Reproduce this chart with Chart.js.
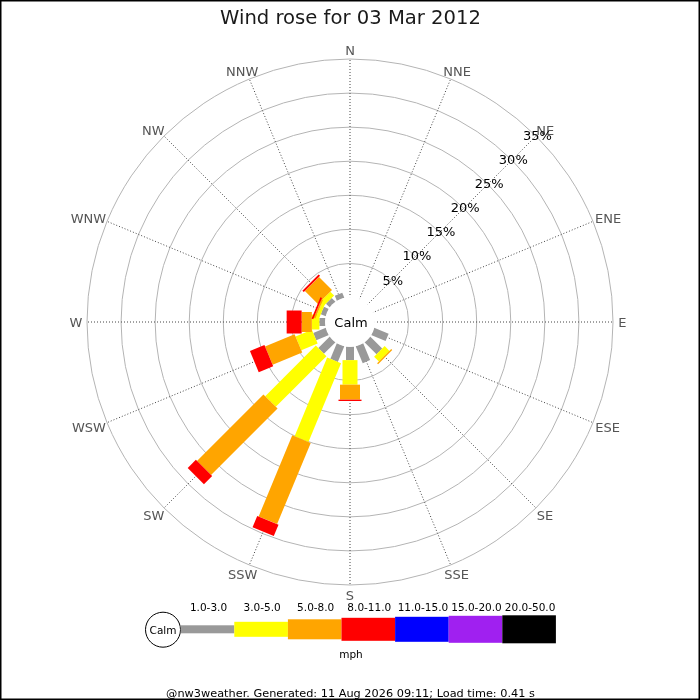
<!DOCTYPE html>
<html>
<head>
<meta charset="utf-8">
<script src="https://cdn.jsdelivr.net/npm/chart.js@4.4.1/dist/chart.umd.min.js"></script>
<style>
html,body{margin:0;padding:0;background:#fff;}
#wrap{width:700px;height:700px;position:relative;}
canvas{display:block;}
</style>
</head>
<body>
<div id="wrap"><canvas id="c" width="700" height="700"></canvas></div>
<script>
// ---------- DATA ----------
const directions = ['N','NNE','NE','ENE','E','ESE','SE','SSE','S','SSW','SW','WSW','W','WNW','NW','NNW'];
const speedClasses = ['1.0-3.0','3.0-5.0','5.0-8.0','8.0-11.0','11.0-15.0','15.0-20.0','20.0-50.0'];
// percentage of time per direction in each speed class (mph)
const pct1to3   = [0,0,0,0,0,2.3,2.5,2.7,2.0,2.5,2.4,2.0,0.9,0.8,0.8,0.8];
const pct3to5   = [0,0,0,0,0,0,1.0,0,3.6,12.5,10.5,2.6,1.1,0.5,0.8,0];
const pct5to8   = [0,0,0,0,0,0,0.2,0,2.2,12.9,13.8,4.7,1.5,0.25,2.7,0];
const pct8to11  = [0,0,0,0,0,0,0,0,0.2,1.8,1.7,2.3,2.2,0.25,0.3,0];
const pct11to15 = [0,0,0,0,0,0,0,0,0,0,0,0,0,0,0,0];
const pct15to20 = [0,0,0,0,0,0,0,0,0,0,0,0,0,0,0,0];
const pct20to50 = [0,0,0,0,0,0,0,0,0,0,0,0,0,0,0,0];
const rangeTicks = [5,10,15,20,25,30,35];
const titleText = 'Wind rose for 03 Mar 2012';
const footerText = '@nw3weather. Generated: 11 Aug 2026 09:11; Load time: 0.41 s';
const unitText = 'mph';
const calmText = 'Calm';

const series = [pct1to3,pct3to5,pct5to8,pct8to11,pct11to15,pct15to20,pct20to50];

// ---------- STYLE ----------
const classColors = ['#999999','#ffff00','#ffa500','#ff0000','#0000ff','#a020f0','#000000'];
const barWidths = [8,15,20,23,25,27,28];
const FONT = 'DejaVu Sans';
const RMAX = 35;
const RMIN = -3.5955; // leaves room for the calm circle
const TY = 2;         // vertical text nudge

const windRosePlugin = {
  id: 'windRose',
  afterDatasetsDraw(chart) {
    const ctx = chart.ctx, s = chart.scales.r;
    const cx = s.xCenter, cy = s.yCenter;
    const n = directions.length;
    const cum = new Array(n).fill(0);
    ctx.save();
    // stacked bars
    for (let k = 0; k < series.length; k++) {
      for (let i = 0; i < n; i++) {
        const v = series[k][i];
        if (!v) continue;
        const a = s.getIndexAngle(i) - Math.PI / 2;
        const ux = Math.cos(a), uy = Math.sin(a), px = -uy, py = ux;
        const r0 = s.getDistanceFromCenterForValue(cum[i]);
        const r1 = s.getDistanceFromCenterForValue(cum[i] + v);
        const hw = barWidths[k] / 2;
        ctx.beginPath();
        ctx.moveTo(cx + ux * r0 + px * hw, cy + uy * r0 + py * hw);
        ctx.lineTo(cx + ux * r1 + px * hw, cy + uy * r1 + py * hw);
        ctx.lineTo(cx + ux * r1 - px * hw, cy + uy * r1 - py * hw);
        ctx.lineTo(cx + ux * r0 - px * hw, cy + uy * r0 - py * hw);
        ctx.closePath();
        ctx.fillStyle = classColors[k];
        ctx.fill();
        cum[i] += v;
      }
    }
    // calm circle
    ctx.beginPath();
    ctx.arc(cx, cy, s.getDistanceFromCenterForValue(0) + 0.5, 0, Math.PI * 2);
    ctx.fillStyle = '#ffffff';
    ctx.fill();
    ctx.fillStyle = '#000';
    ctx.font = '13px "' + FONT + '"';
    ctx.textAlign = 'center';
    ctx.textBaseline = 'middle';
    ctx.fillText(calmText, cx + 1, cy + TY);

    // direction labels
    ctx.fillStyle = '#555555';
    const base = s.drawingArea + 6;
    for (let i = 0; i < n; i++) {
      const a = s.getIndexAngle(i) - Math.PI / 2;
      const ux = Math.cos(a), uy = Math.sin(a);
      const w = ctx.measureText(directions[i]).width;
      const x = cx + ux * base + ux * w * 0.4;
      const y = cy + uy * base + uy * 3.5;
      ctx.fillText(directions[i], x, y + TY);
    }
    // range labels along NE
    ctx.fillStyle = '#000';
    s.ticks.forEach(t => {
      const p = s.getPointPosition(2, s.getDistanceFromCenterForValue(t.value) + 2);
      ctx.fillText(t.value + '%', p.x, p.y + TY);
    });

    // legend
    const lx = 180.7, ly = 629.3, segW = 53.6;
    ctx.beginPath();
    ctx.arc(163, 629.7, 17.5, 0, Math.PI * 2);
    ctx.fillStyle = '#fff';
    ctx.fill();
    ctx.strokeStyle = '#000';
    ctx.lineWidth = 1;
    ctx.stroke();
    ctx.fillStyle = '#000';
    ctx.font = '10.5px "' + FONT + '"';
    ctx.fillText(calmText, 163, 630 + 1.5);
    for (let k = 0; k < speedClasses.length; k++) {
      ctx.fillStyle = classColors[k];
      ctx.fillRect(lx + k * segW, ly - barWidths[k] / 2, segW, barWidths[k]);
      ctx.fillStyle = '#000';
      ctx.fillText(speedClasses[k], lx + k * segW + segW / 2 + 1, 607 + 1.5);
    }
    ctx.fillText(unitText, 351, 654 + 1.5);

    // frame
    ctx.strokeStyle = '#000';
    ctx.lineWidth = 1.5;
    ctx.strokeRect(0.75, 0.75, chart.width - 1.5, chart.height - 1.5);
    ctx.restore();
  }
};

const cfg = {
  type: 'radar',
  data: {
    labels: directions,
    datasets: series.map((d, k) => ({
      label: speedClasses[k] + ' ' + unitText,
      data: d,
      backgroundColor: 'rgba(0,0,0,0)',
      borderColor: 'rgba(0,0,0,0)',
      borderWidth: 0,
      pointRadius: 0,
      pointHoverRadius: 0,
      fill: false
    }))
  },
  options: {
    responsive: false,
    animation: false,
    devicePixelRatio: 1,
    events: [],
    layout: { padding: { left: 87, right: 86, top: 0, bottom: 0 } },
    plugins: {
      legend: { display: false },
      tooltip: { enabled: false },
      title: {
        display: true, text: titleText, color: '#1a1a1a',
        font: { family: FONT, size: 19.6, weight: 'normal', lineHeight: 1.2 },
        padding: { top: 7.2, bottom: 28.28 }
      },
      subtitle: {
        display: true, position: 'bottom', text: footerText, color: '#000',
        font: { family: FONT, size: 11.3, weight: 'normal', lineHeight: 1.0 },
        padding: { top: 102.7, bottom: 0 }
      }
    },
    scales: {
      r: {
        min: RMIN, max: RMAX, startAngle: 0,
        ticks: { display: false, stepSize: 5 },
        afterBuildTicks: (scale) => { scale.ticks = rangeTicks.map(v => ({ value: v })); },
        grid: { circular: true, color: '#b4b4b4', lineWidth: 1 },
        angleLines: { display: true, color: '#444', lineWidth: 1, borderDash: [1, 2] },
        pointLabels: { display: false }
      }
    }
  },
  plugins: [windRosePlugin]
};
new Chart(document.getElementById('c'), cfg);
</script>
</body>
</html>
